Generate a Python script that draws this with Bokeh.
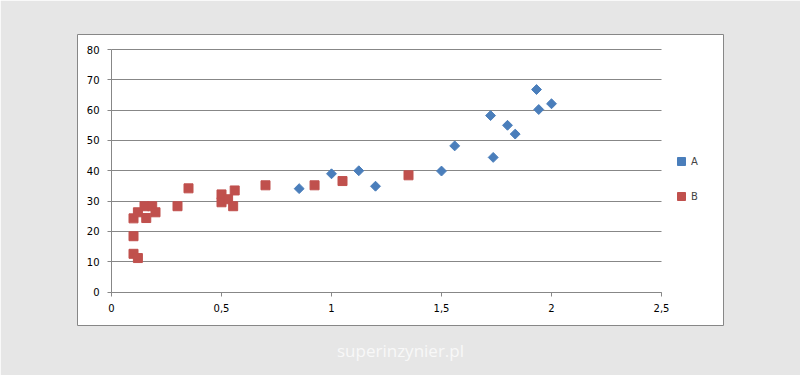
from bokeh.plotting import figure
from bokeh.models import (Range1d, FixedTicker, Legend, LegendItem, Title)
from bokeh.embed import file_html
from bokeh.resources import INLINE
import math

# ---- data ----
a_x = [0.853, 1.00, 1.124, 1.20, 1.50, 1.56, 1.723, 1.735, 1.80, 1.835, 1.932, 1.942, 2.00]
a_y = [34.1, 39.0, 40.0, 34.9, 39.9, 48.2, 58.2, 44.4, 55.0, 52.1, 66.8, 60.2, 62.1]

b_x = [0.10, 0.10, 0.10, 0.12, 0.12, 0.15, 0.185, 0.158, 0.20, 0.30, 0.35,
       0.50, 0.50, 0.53, 0.56, 0.553, 0.70, 0.923, 1.05, 1.35]
b_y = [24.3, 18.4, 12.6, 11.2, 26.3, 28.3, 28.3, 24.4, 26.3, 28.3, 34.2,
       32.2, 29.6, 30.6, 33.5, 28.3, 35.2, 35.2, 36.6, 38.5]

x_ticks = [0, 0.5, 1, 1.5, 2, 2.5]
x_tick_labels = ["0", "0,5", "1", "1,5", "2", "2,5"]
y_ticks = [0, 10, 20, 30, 40, 50, 60, 70, 80]
y_tick_labels = ["0", "10", "20", "30", "40", "50", "60", "70", "80"]
series_names = ["A", "B"]
watermark = "superinzynier.pl"

GRAY_BG = "#e6e6e6"
LINE = "#878787"
BLUE = "#4a7ebb"
RED = "#c0504d"

p = figure(width=800, height=375, output_backend="svg", toolbar_location=None,
           x_range=Range1d(-0.15455, 2.7818), y_range=Range1d(-11.05, 84.95),
           min_border_left=77, min_border_right=77, min_border_top=34,
           min_border_bottom=50)
p.background_fill_color = "white"
p.border_fill_color = GRAY_BG
p.outline_line_color = LINE
p.outline_line_width = 1

# axes at the origin
for ax, ticks, labels, loc, bnds in (
        (p.xaxis[0], x_ticks, x_tick_labels, 0, (0, 2.5)),
        (p.yaxis[0], y_ticks, y_tick_labels, 0, (0, 80))):
    ax.ticker = FixedTicker(ticks=ticks)
    ax.major_label_overrides = {t: l for t, l in zip(ticks, labels)}
    ax.fixed_location = loc
    ax.bounds = bnds
    ax.axis_line_color = LINE
    ax.major_tick_line_color = LINE
    ax.major_tick_out = 4
    ax.major_tick_in = 0
    ax.minor_tick_line_color = None
    ax.major_label_text_font = "DejaVu Sans"
    ax.major_label_text_font_size = "10px"
    ax.major_label_text_color = "black"
p.xaxis[0].major_label_standoff = 8
p.yaxis[0].major_label_standoff = 8

p.xgrid.visible = False
p.ygrid.ticker = FixedTicker(ticks=y_ticks)
p.ygrid.grid_line_color = LINE
p.ygrid.cross_bounds = (0, 2.5)

ra = p.scatter(a_x, a_y, marker="square", size=7, angle=math.pi / 4,
               fill_color=BLUE, line_color=BLUE)
rb = p.scatter(b_x, b_y, marker="square", size=9,
               fill_color=RED, line_color=RED)

legend = Legend(items=[LegendItem(label=series_names[0], renderers=[ra]),
                       LegendItem(label=series_names[1], renderers=[rb])],
                location=(594, 119), padding=0, margin=0, spacing=15,
                glyph_width=20, glyph_height=20, label_height=20,
                label_standoff=-3, border_line_color=None,
                background_fill_alpha=0,
                label_text_font="DejaVu Sans", label_text_font_size="10px")
p.add_layout(legend)

t = Title(text=watermark, align="center", text_font="Open Sans",
          text_font_size="17px", text_color="#f8f8f8", text_font_style="normal",
          standoff=22)
p.add_layout(t, "below")

open("out.html", "w").write(file_html(p, INLINE))
